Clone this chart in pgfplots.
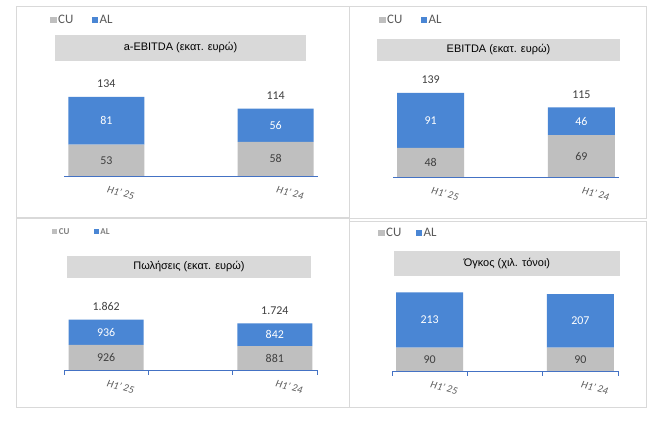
\documentclass[border=0pt]{standalone}
\usepackage{pgfplots}
\pgfplotsset{compat=1.18}
\usepackage{fontspec}
\setmainfont{Carlito}
\newfontfamily\arialf{Liberation Sans}
\definecolor{cugray}{HTML}{BFBFBF}
\definecolor{alblue}{HTML}{4A86D4}
\definecolor{axblue}{HTML}{4472C4}
\definecolor{framegray}{HTML}{D9D9D9}
\definecolor{titlegray}{HTML}{D9D9D9}
\definecolor{txt}{HTML}{404040}
\definecolor{ticktxt}{HTML}{595959}
\newcommand{\gap}[1]{\hbox to #1{}}

\pgfplotsset{
 panel/.style={
  scale only axis,
  anchor=south west,
  xmin=-0.5, xmax=2.5, ymin=0,
  axis x line=bottom, axis y line=none,
  x axis line style={-, draw=axblue, line width=0.8bp},
  xtick={0,2}, xticklabels={H1' 25, H1' 24},
  major tick length=0pt,
  xticklabel style={rotate=-15, anchor=north west, font=\itshape\fontsize{10.5}{12}\selectfont, text=ticktxt, xshift=1bp, yshift=-5bp},
  ybar stacked,
  clip=false,
  legend columns=2,
  legend image code/.code={\fill[##1] (0bp,-3.2bp) rectangle (6.4bp,3.2bp);},
  legend style={draw=none, fill=none, inner sep=0pt, anchor=west, font=\fontsize{13}{15}\selectfont, text=ticktxt, nodes={inner sep=1.5bp}},
 },
 withticks/.style={extra x ticks={-0.5,0.5,1.5,2.5}, extra x tick labels={}, extra x tick style={major tick length=5bp, tick align=outside, tick style={draw=axblue, line width=0.8bp}}},
}
\tikzset{
 valnode/.style={font=\fontsize{12}{14}\selectfont, text=txt, inner sep=0pt},
 topnode/.style={valnode, anchor=south, yshift=9bp},
 titlebox/.style={fill=titlegray, inner sep=0pt, font=\arialf\fontsize{11}{13}\selectfont, text=black},
}

\begin{document}
\begin{tikzpicture}[x=1bp,y=1bp]
\fill[white] (0,0) rectangle (671,436);
\useasboundingbox (0,0) rectangle (671,436);
% frames
\draw[framegray, line width=1bp] (16,429) rectangle (349,217);
\draw[framegray, line width=1bp] (349,429) rectangle (646,217);
\draw[framegray, line width=1bp] (16,218) rectangle (349,28);
\draw[framegray, line width=1bp] (349,214) rectangle (646,28);
% title boxes
\node[titlebox, minimum width=251bp, minimum height=26bp] at (180.5,388) {a-EBITDA (εκατ. ευρώ)};
\node[titlebox, minimum width=243bp, minimum height=22bp] at (498.5,386) {EBITDA (εκατ. ευρώ)};
\node[titlebox, minimum width=244bp, minimum height=22bp] at (189,169) {Πωλήσεις (εκατ. ευρώ)};
\node[titlebox, minimum width=226bp, minimum height=25bp] at (507,172.5) {Όγκος (χιλ. τόνοι)};

% Panel 1
\begin{axis}[panel, at={(64bp,260bp)}, width=254bp, height=88.5bp, ymax=150, bar width=76bp,
  legend style={at={(axis description cs:-0.055,1.763)}}]
\addplot[fill=cugray, draw=none] coordinates {(0,53) (2,58)};
\addplot[fill=alblue, draw=none] coordinates {(0,81) (2,56)};
\legend{CU\gap{17bp}, AL}
\coordinate (a1) at (axis cs:0,26.5);
\coordinate (a2) at (axis cs:0,93.5);
\coordinate (a3) at (axis cs:0,134);
\coordinate (a4) at (axis cs:2,29);
\coordinate (a5) at (axis cs:2,86);
\coordinate (a6) at (axis cs:2,114);
\end{axis}
\node[valnode] at (a1) {53};
\node[valnode, text=white] at (a2) {81};
\node[topnode] at (a3) {134};
\node[valnode] at (a4) {58};
\node[valnode, text=white] at (a5) {56};
\node[topnode] at (a6) {114};

% Panel 2
\begin{axis}[panel, at={(393bp,259bp)}, width=226bp, height=90.75bp, ymax=150, bar width=67bp,
  legend style={at={(axis description cs:-0.062,1.730)}}]
\addplot[fill=cugray, draw=none] coordinates {(0,48) (2,69)};
\addplot[fill=alblue, draw=none] coordinates {(0,91) (2,46)};
\legend{CU\gap{17bp}, AL}
\coordinate (b1) at (axis cs:0,24);
\coordinate (b2) at (axis cs:0,93.5);
\coordinate (b3) at (axis cs:0,139);
\coordinate (b4) at (axis cs:2,34.5);
\coordinate (b5) at (axis cs:2,92);
\coordinate (b6) at (axis cs:2,115);
\end{axis}
\node[valnode] at (b1) {48};
\node[valnode, text=white] at (b2) {91};
\node[topnode] at (b3) {139};
\node[valnode] at (b4) {69};
\node[valnode, text=white] at (b5) {46};
\node[topnode] at (b6) {115};

% Panel 3
\begin{axis}[panel, withticks, at={(64bp,66bp)}, width=253bp, height=54bp, ymax=2000, bar width=75bp,
  legend image code/.code={\fill[#1] (0bp,-2.5bp) rectangle (5bp,2.5bp);},
  legend style={at={(axis description cs:-0.047,2.556)}, font=\bfseries\fontsize{9}{11}\selectfont, text=gray}]
\addplot[fill=cugray, draw=none] coordinates {(0,926) (2,881)};
\addplot[fill=alblue, draw=none] coordinates {(0,936) (2,842)};
\legend{CU\gap{23bp}, AL}
\coordinate (c1) at (axis cs:0,463);
\coordinate (c2) at (axis cs:0,1394);
\coordinate (c3) at (axis cs:0,1862);
\coordinate (c4) at (axis cs:2,440.5);
\coordinate (c5) at (axis cs:2,1302);
\coordinate (c6) at (axis cs:2,1723);
\end{axis}
\node[valnode] at (c1) {926};
\node[valnode, text=white] at (c2) {936};
\node[topnode] at (c3) {1.862};
\node[valnode] at (c4) {881};
\node[valnode, text=white] at (c5) {842};
\node[topnode] at (c6) {1.724};

% Panel 4
\begin{axis}[panel, withticks, at={(392bp,65bp)}, width=226bp, height=82.9bp, ymax=320, bar width=67bp,
  legend style={at={(axis description cs:-0.062,1.665)}}]
\addplot[fill=cugray, draw=none] coordinates {(0,90) (2,90)};
\addplot[fill=alblue, draw=none] coordinates {(0,213) (2,207)};
\legend{CU\gap{13bp}, AL}
\coordinate (d1) at (axis cs:0,45);
\coordinate (d2) at (axis cs:0,196.5);
\coordinate (d3) at (axis cs:2,45);
\coordinate (d4) at (axis cs:2,193.5);
\end{axis}
\node[valnode] at (d1) {90};
\node[valnode, text=white] at (d2) {213};
\node[valnode] at (d3) {90};
\node[valnode, text=white] at (d4) {207};
\end{tikzpicture}
\end{document}
